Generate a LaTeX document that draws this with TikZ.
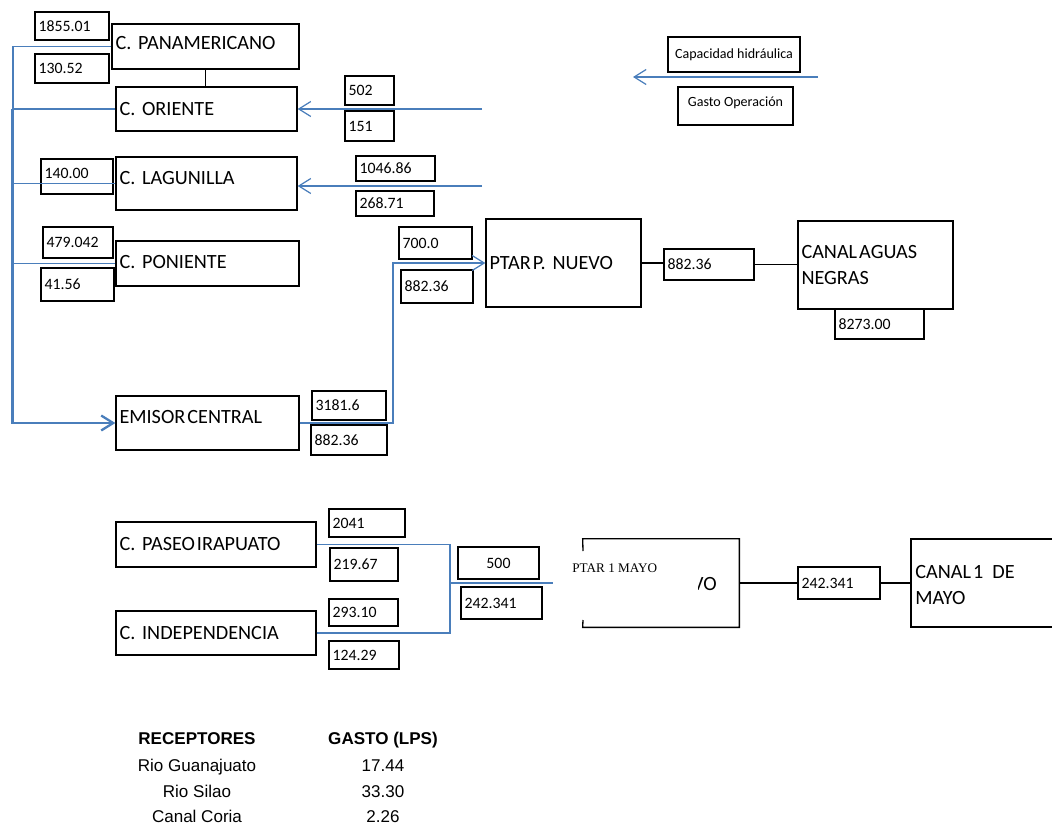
\documentclass[tikz,border=0pt]{standalone}
\usepackage{fontspec}
\setmainfont{Carlito}
\newfontfamily\arialf{Liberation Sans}
\newfontfamily\romanf{Liberation Serif}
\usetikzlibrary{arrows.meta}
\definecolor{azul}{RGB}{74,126,187}
\frenchspacing

\begin{document}
\begin{tikzpicture}[x=0.02cm, y=-0.02cm,
  caja/.style={draw, line width=0.75pt, inner xsep=2pt, inner ysep=1pt, align=left, font=\fontsize{11.5}{15}\selectfont},
  sube/.style={text depth=#1},
  valor/.style={draw, line width=0.75pt, inner xsep=2pt, inner ysep=1pt, align=left, font=\fontsize{9}{11}\selectfont},
  centrado/.style={draw, line width=0.75pt, inner sep=1pt, align=center},
  liga/.style={line width=0.75pt},
  azulf/.style={azul, line width=0.7pt},
  azulg/.style={azul, line width=1.3pt},
  flecha/.style={-{Straight Barb[length=0.24cm, width=0.3cm]}},
  tabla/.style={font=\arialf\fontsize{9.7}{11}\selectfont, inner sep=0pt, anchor=base}]
  \useasboundingbox (0,0) rectangle (1052,825);

  % colectores
  \node[caja, sube=4pt, text width=3.60cm, minimum height=0.90cm] (pan) at (205.5,46.5) {C. PANAMERICANO};
  \node[caja, text width=3.48cm, minimum height=0.88cm] (ori) at (206.5,109) {C. ORIENTE};
  \node[caja, sube=6pt, text width=3.48cm, minimum height=1.06cm] (lag) at (206.5,183.5) {C. LAGUNILLA};
  \node[caja, sube=2pt, text width=3.52cm, minimum height=0.90cm] (pon) at (207.5,263.5) {C. PONIENTE};
  \node[caja, sube=7pt, text width=3.52cm, minimum height=1.08cm] (emi) at (207.5,423) {EMISOR\kern.1em CENTRAL};

  \node[valor, text width=1.34cm, minimum height=0.56cm] (v1855) at (72,26) {1855.01};
  \node[valor, text width=1.34cm, minimum height=0.58cm] (v130) at (72,68.5) {130.52};
  \node[valor, sube=4pt, text width=1.30cm, minimum height=0.70cm] (v140) at (77,176.5) {140.00};
  \node[valor, text width=1.26cm, minimum height=0.62cm] (v479) at (78,242.5) {479.042};
  \node[valor, text width=1.32cm, minimum height=0.66cm] (v41) at (77.5,284.5) {41.56};

  \node[valor, text width=0.84cm, minimum height=0.58cm] (v502) at (369.5,90.5) {502};
  \node[valor, text width=0.84cm, minimum height=0.60cm] (v151) at (369.5,126) {151};
  \node[valor, text width=1.44cm, minimum height=0.50cm] (v1046) at (395.5,168.5) {1046.86};
  \node[valor, text width=1.42cm, minimum height=0.50cm] (v268) at (395,203.5) {268.71};
  \node[valor, text width=1.32cm, minimum height=0.64cm] (v700) at (435.5,243) {700.0};
  \node[valor, text width=1.30cm, minimum height=0.66cm] (v882a) at (437,286.5) {882.36};
  \node[valor, text width=1.34cm, minimum height=0.58cm] (v3181) at (349,405.5) {3181.6};
  \node[valor, text width=1.38cm, minimum height=0.60cm] (v882b) at (349,440) {882.36};

  % planta y descarga
  \node[caja, text width=2.96cm, minimum height=1.76cm] (pne) at (563.5,263) {PTAR\kern.1em P. NUEVO};
  \node[valor, text width=1.66cm, minimum height=0.62cm] (v882c) at (709,264.5) {882.36};
  \node[caja, text width=2.96cm, minimum height=1.76cm] (can) at (875.5,265) {CANAL\kern.1em AGUAS\\NEGRAS};
  \node[valor, text width=1.64cm, minimum height=0.60cm] (v8273) at (879.5,324) {8273.00};

  % simbologia
  \node[centrado, minimum width=2.64cm, minimum height=0.70cm, font=\fontsize{8}{10}\selectfont] (cap) at (734,54.5) {Capacidad hidráulica};
  \node[centrado, sube=5pt, minimum width=2.30cm, minimum height=0.76cm, font=\fontsize{8}{10}\selectfont] (gas) at (735.5,106) {Gasto Operación};
  \coordinate (lg1) at (818,77);
  \coordinate (lg2) at (633,77);

  \draw[liga] (pan.south) -- (pan.south |- ori.north);
  \draw[liga] (pne.east) -- (pne.east -| v882c.west);
  \draw[liga] (v882c.east) -- (v882c.east -| can.west);

  % red azul
  \coordinate (bus) at (13,422);
  \coordinate (bus2) at (12,423);
  \draw[azulf] (pan.west) -| (bus);
  \draw[azulf] (ori.west) -- (ori.west -| bus);
  \draw[azulf] (lag.west) -- (lag.west -| bus);
  \draw[azulf] (pon.west) -- (pon.west -| bus);
  \draw[azulg, flecha] (ori.west -| bus2) -- (bus2) -- (emi.west);

  \coordinate (eo) at (482,109);
  \coordinate (el) at (482,186);
  \draw[azulf, flecha] (eo) -- (ori.east);
  \draw[azulf, flecha] (el) -- (el -| lag.east);
  \coordinate (codo) at (393,263);
  \draw[azulf, flecha] (emi.east) -| (codo) -- (pne.west);
  \draw[azulf, flecha] (lg1) -- (lg2);

  % zona 1 de mayo
  \node[caja, text width=3.86cm, minimum height=0.90cm] (pas) at (216,544.5) {C. PASEO\kern.1em IRAPUATO};
  \node[caja, text width=3.86cm, minimum height=0.88cm] (ind) at (216,633) {C. INDEPENDENCIA};
  \node[valor, text width=1.38cm, minimum height=0.56cm] (v2041) at (367,523) {2041};
  \node[valor, text width=1.22cm, minimum height=0.66cm] (v219) at (364,564.5) {219.67};
  \node[valor, text width=1.24cm, minimum height=0.54cm] (v293) at (363.5,612.5) {293.10};
  \node[valor, text width=1.26cm, minimum height=0.56cm] (v124) at (364,655) {124.29};
  \node[centrado, minimum width=1.62cm, minimum height=0.64cm, font=\fontsize{9}{11}\selectfont] (v500) at (498.5,563) {500};
  \node[valor, text width=1.48cm, minimum height=0.64cm] (v242a) at (501.5,603) {242.341};

  \coordinate (jn) at (450,583);
  \coordinate (pin) at (553,583);
  \draw[azulf] (pas.east) -| (jn);
  \draw[azulf] (ind.east) -| (jn);
  \draw[azulg] (jn) -- (pin);

  \node[minimum width=3.12cm, minimum height=1.76cm, inner sep=0pt] (pmy) at (661,583) {};
  \draw[liga] (583,551) -- (pmy.north west) -- (pmy.north east) -- (pmy.south east) -- (pmy.south west) -- (583,620);
  \node[anchor=west, inner sep=0pt, font=\romanf\fontsize{7.5}{9}\selectfont] (pmyt) at (572,568) {PTAR 1 MAYO};
  \begin{scope}
    \clip (698,545) rectangle (738,625);
    \node[anchor=east, inner sep=0pt, font=\fontsize{11.5}{15}\selectfont] (pmyv) at (717,584) {VO};
  \end{scope}

  \node[valor, text width=1.50cm, minimum height=0.64cm] (v242b) at (839,583) {242.341};
  \coordinate (cmy) at (911,583);
  \draw[liga] (1052,539) -| (911,627) -- (1052,627);
  \node[anchor=west, inner sep=0pt, align=left, font=\fontsize{11.5}{15}\selectfont] (cmyt) at (915,585) {CANAL\kern.1em 1\ \ DE\\MAYO};
  \draw[liga] (pmy.east) -- (v242b.west);
  \draw[liga] (v242b.east) -- (cmy);

  % tabla de receptores
  \node[tabla, font=\arialf\bfseries\fontsize{9.7}{11}\selectfont] (hr) at (197,744) {RECEPTORES};
  \node[tabla, font=\arialf\bfseries\fontsize{9.7}{11}\selectfont] (hg) at (383,744) {GASTO (LPS)};
  \node[tabla] (r1) at (197,771) {Rio Guanajuato};
  \node[tabla] (g1) at (383,771) {17.44};
  \node[tabla] (r2) at (197,797) {Rio Silao};
  \node[tabla] (g2) at (383,797) {33.30};
  \node[tabla] (r3) at (197,822) {Canal Coria};
  \node[tabla] (g3) at (383,822) {2.26};
\end{tikzpicture}
\end{document}
